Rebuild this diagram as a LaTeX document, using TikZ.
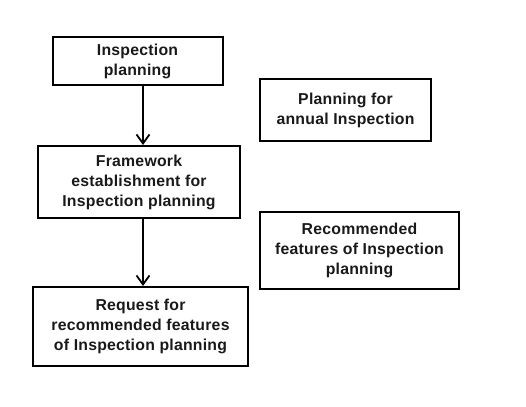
\documentclass[tikz,border=0pt]{standalone}
\usepackage{fontspec}
\setmainfont{Liberation Sans}[LetterSpace=1.5]
\usetikzlibrary{arrows.meta,calc}
\begin{document}
\begin{tikzpicture}[x=1pt,y=1pt,
  box/.style={draw=black,line width=2pt,align=center,inner sep=0pt,
    font=\bfseries\fontsize{15.8}{20}\selectfont,text=black!90},
  arr/.style={line width=1.8pt,-{Straight Barb[length=9pt,width=13pt,line width=1.8pt]}}]
\useasboundingbox (0,0) rectangle (526,-406);
\node[box,minimum width=170,minimum height=48] (b1) at (137.5,-61.5) {Inspection\\planning};
\node[box,minimum width=202,minimum height=72] (b2) at (139,-182) {Framework\\establishment for\\Inspection planning};
\node[box,minimum width=215,minimum height=79] (b3) at (140.5,-326.5) {Request for\\recommended features\\of Inspection planning};
\node[box,minimum width=171,minimum height=62] (b4) at (345.5,-110) {Planning for\\annual Inspection};
\node[box,minimum width=199,minimum height=77] (b5) at (359.5,-250.5) {Recommended\\features of Inspection\\planning};
\coordinate (a1) at ($(b1.south)+(5.5,0)$);
\coordinate (a2) at ($(b2.south)+(4,0)$);
\draw[arr] (a1) -- (a1 |- b2.north);
\draw[arr] (a2) -- (a2 |- b3.north);
\end{tikzpicture}
\end{document}
